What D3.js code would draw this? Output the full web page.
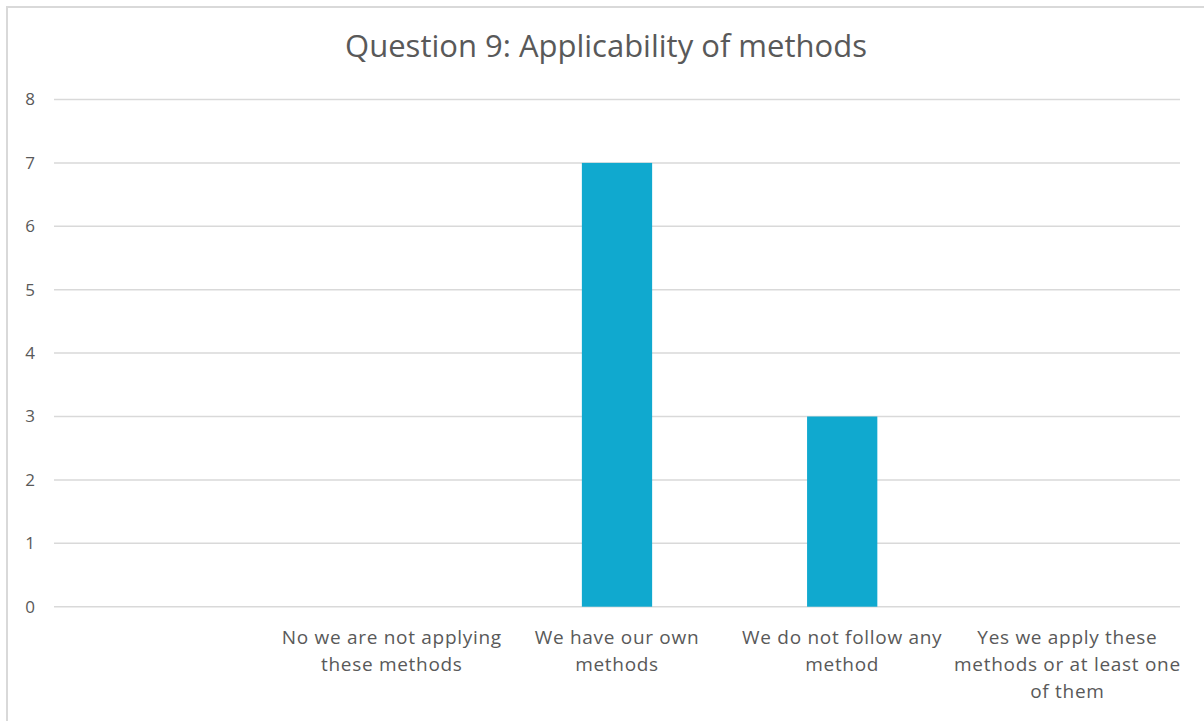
<!DOCTYPE html>
<html>
<head>
<meta charset="utf-8">
<script src="https://cdn.jsdelivr.net/npm/d3@7"></script>
<style>
  html, body { margin: 0; padding: 0; background: #fff; }
  svg { display: block; }
</style>
</head>
<body>
<svg id="chart" width="1204" height="721"></svg>
<script>
// Survey responses for question 9
const categories = ["", "No we are not applying these methods", "We have our own methods", "We do not follow any method", "Yes we apply these methods or at least one of them"];
const labelLines = [[], ["No we are not applying", "these methods"], ["We have our own", "methods"], ["We do not follow any", "method"], ["Yes we apply these", "methods or at least one", "of them"]];
const values = [0, 0, 7, 3, 0];
const yTicks = [0, 1, 2, 3, 4, 5, 6, 7, 8];
const title = "Question 9: Applicability of methods";

const svg = d3.select("#chart");
const font = "'Open Sans', Lato, sans-serif";

// outer chart frame
svg.append("rect")
  .attr("x", 7).attr("y", 7)
  .attr("width", 1220).attr("height", 740)
  .attr("fill", "none").attr("stroke", "#d9d9d9").attr("stroke-width", 2);

const plot = { left: 54, right: 1180, top: 99.5, bottom: 606.7 };

const x = d3.scaleBand().domain(categories).range([plot.left, plot.right]);
const y = d3.scaleLinear().domain([0, 8]).range([plot.bottom, plot.top]);
const barWidth = x.bandwidth() * 0.312;

// gridlines
svg.append("g").selectAll("line").data(yTicks).join("line")
  .attr("x1", plot.left).attr("x2", plot.right)
  .attr("y1", d => y(d)).attr("y2", d => y(d))
  .attr("stroke", "#d9d9d9").attr("stroke-width", 1.5);

// y tick labels
svg.append("g").selectAll("text").data(yTicks).join("text")
  .attr("x", 30).attr("y", d => y(d))
  .attr("dy", "0.35em")
  .attr("text-anchor", "middle")
  .attr("font-family", font).attr("font-size", 17)
  .attr("fill", "#595959")
  .text(d => d);

// bars
svg.append("g").selectAll("rect").data(values.map((v, i) => ({ c: categories[i], v })).filter(d => d.v > 0)).join("rect")
  .attr("x", d => x(d.c) + x.bandwidth() / 2 - barWidth / 2)
  .attr("width", barWidth)
  .attr("y", d => y(d.v))
  .attr("height", d => y(0) - y(d.v))
  .attr("fill", "#10a9cf");

// category labels
const lab = svg.append("g").selectAll("text").data(categories).join("text")
  .attr("text-anchor", "middle")
  .attr("font-family", font).attr("font-size", 19)
  .attr("letter-spacing", 0.7)
  .attr("fill", "#595959")
  .attr("transform", d => `translate(${x(d) + x.bandwidth() / 2},644)`);
lab.each(function(d, i) {
  d3.select(this).selectAll("tspan").data(labelLines[i]).join("tspan")
    .attr("x", 0).attr("y", (_, j) => j * 27)
    .text(t => t);
});

// title
svg.append("text")
  .attr("x", 606).attr("y", 57)
  .attr("text-anchor", "middle")
  .attr("font-family", font).attr("font-size", 31)
  .attr("fill", "#595959")
  .text(title);
</script>
</body>
</html>
